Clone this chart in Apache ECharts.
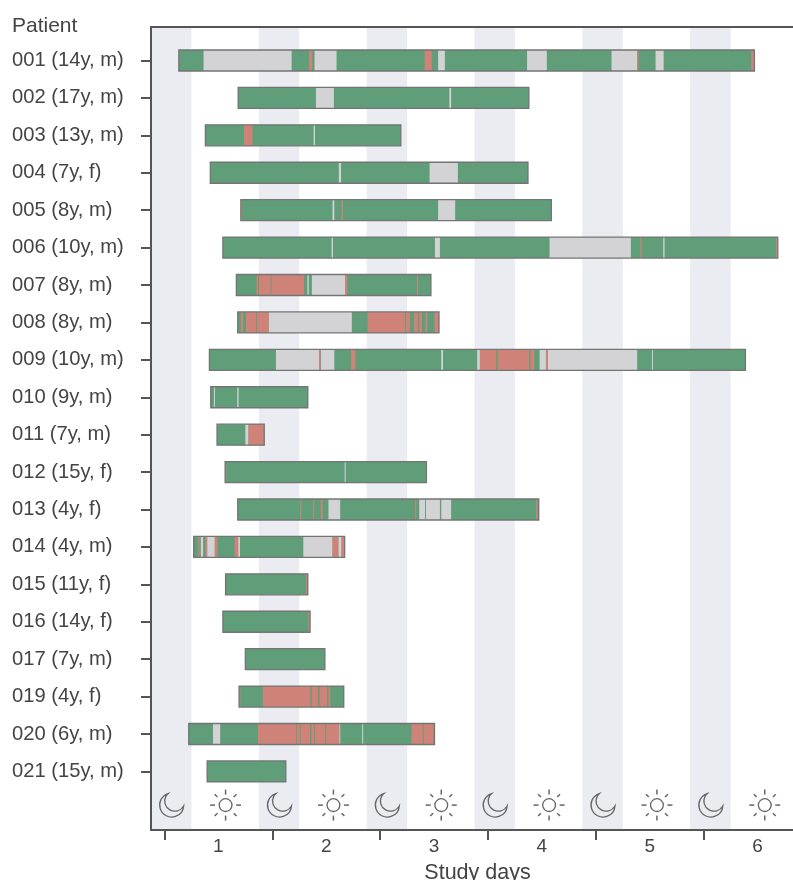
<!DOCTYPE html>
<html><head><meta charset="utf-8">
<style>html,body{margin:0;padding:0;background:#fff}#c{width:793px;height:880px}</style>
<script src="https://cdn.jsdelivr.net/npm/echarts@6/dist/echarts.min.js"></script>
</head><body><div id="c"></div>
<script>
// x values are hours after the first midnight of the study
const patients = ['001 (14y, m)','002 (17y, m)','003 (13y, m)','004 (7y, f)','005 (8y, m)','006 (10y, m)','007 (8y, m)','008 (8y, m)','009 (10y, m)','010 (9y, m)','011 (7y, m)','012 (15y, f)','013 (4y, f)','014 (4y, m)','015 (11y, f)','016 (14y, f)','017 (7y, m)','019 (4y, f)','020 (6y, m)','021 (15y, m)'];
const startHours = [3.2,16.4,9.1,10.2,17,13,16,16.3,10,10.3,11.7,13.5,16.3,6.5,13.6,13,18,16.6,5.4,9.5];
const endHours = [131.3,81.1,52.6,80.9,86.1,136.5,59.3,61.1,129.3,31.9,22.2,58.3,83.3,40.1,31.9,32.4,35.7,39.9,60.1,27];
const greySpans = [
 [[8.7,28.3],[33.4,38.3],[60.9,62.4],[80.7,85.1],[99.5,105.2],[109.3,111.1]],
 [[33.7,37.7],[63.4,63.8]],
 [[33.2,33.5]],
 [[38.8,39.3],[59,65.3]],
 [[37.4,37.8],[60.9,64.7]],
 [[37.2,37.5],[60.2,61.3],[85.7,103.8],[111,111.3]],
 [[31.8,32.1],[32.8,40.2]],
 [[23.2,41.7]],
 [[24.8,34.4],[34.8,37.8],[61.6,62],[69.6,70.2],[83.5,84.9],[85.3,105.2],[108.5,108.7]],
 [[11,11.2],[16.2,16.5]],
 [[18,18.7]],
 [[40.1,40.3]],
 [[36.5,39.1],[56.7,58],[58.2,61.3],[61.6,63.8]],
 [[8.1,8.6],[9.5,11.2],[16.4,16.8],[30.9,37.4],[38.7,39.4]],
 [],[],[],[],
 [[10.8,12.4],[38.9,39.1],[44,44.2]],
 []
];
const redSpans = [
 [[32.2,32.9],[57.9,59.5],[105.2,105.5],[130.6,131.2]],
 [],
 [[17.7,19.6]],
 [],
 [[17,17.2],[39.4,39.7]],
 [[105.9,106.2],[136.1,136.5]],
 [[20.5,20.8],[21,23.6],[23.8,31.1],[40.2,40.7],[56.2,56.4]],
 [[17,17.5],[18.1,20.4],[20.6,23.2],[45.2,53.5],[53.7,54.6],[55.5,56.4],[56.7,57.3],[58.1,58.5],[60.1,61.1]],
 [[34.4,34.7],[41.5,42.5],[70.2,73.8],[74.1,81.2],[81.5,82.3],[84.9,85.3]],
 [],
 [[18.7,22.2]],
 [[13.5,13.7]],
 [[30.2,30.4],[33.1,33.3],[34.8,35.2],[55.8,56],[82.7,83]],
 [[7.5,7.8],[9.1,9.5],[11.2,11.8],[15.6,16.4],[37.4,38.7],[39.4,40.1]],
 [[31.5,31.9]],
 [[32,32.4]],
 [],
 [[16.6,16.9],[21.9,32.5],[32.8,34.2],[34.5,36.2],[36.5,36.9]],
 [[20.8,29.3],[29.5,30.1],[30.3,32.4],[32.7,33.3],[33.5,35.8],[36,38.9],[55,57.5],[57.7,59.9]],
 []
];
const nightStarts = [-3,21,45,69,93,117];
const nightEnds = [6,30,54,78,102,126];
const moonHours = [1.6,25.6,49.6,73.6,97.6,121.6];
const sunHours = [13.6,37.6,61.6,85.6,109.6,133.6];
const dayLabels = ['1','2','3','4','5','6'];
const dayLabelHours = [12,36,60,84,108,132];
const midnightHours = [0,24,48,72,96,120];
const iconRow = 19.9;

const COLORS = {green:'#5F9E79', grey:'#D3D3D5', red:'#CF8378', night:'#EBECF2', edge:'#747474', ink:'#444', spine:'#555'};
const FONT = '"Liberation Sans", Arial, sans-serif';
const BAR_H = 21;
const Y_MIN = -0.895, Y_MAX = 20.565, X_MIN = -3, X_MAX = 141;

function spanItem(c) {
  return function (params, api) {
    const a = api.coord([api.value(0), api.value(2)]);
    const b = api.coord([api.value(1), api.value(2)]);
    return {type:'rect', shape:{x:a[0], y:a[1]-BAR_H/2, width:Math.max(b[0]-a[0],1), height:BAR_H},
            style:{fill:c}};
  };
}
function rows(arr){const out=[];arr.forEach((l,i)=>l.forEach(s=>out.push([s[0],s[1],i])));return out;}
const bars = patients.map((_,i)=>[startHours[i],endHours[i],i]);
const moonPath = 'M-4 -11 A12 12 0 1 0 11.7 1.3 A10.1 10.1 0 1 1 -4 -11 Z';
const ICON = {fill:'none', stroke:'#666', lineWidth:1.3};
const spineStyle = {color:COLORS.spine, width:2};

const option = {
  animation:false,
  backgroundColor:'#fff',
  title:{text:'Patient', left:7, top:11, textStyle:{fontFamily:FONT, fontSize:21, fontWeight:'normal', color:COLORS.ink}},
  grid:{left:151, right:-5, top:27, bottom:50, outerBoundsMode:'none', containLabel:false},
  xAxis:[
   {type:'value', z:10, min:X_MIN, max:X_MAX, splitLine:{show:false}, axisLine:{show:true, onZero:false, lineStyle:spineStyle},
    name:'Study days', nameLocation:'middle', nameGap:32,
    nameTextStyle:{fontFamily:FONT, fontSize:21.5, color:COLORS.ink, padding:[0,0,0,6]},
    axisTick:{show:true, length:10, customValues:midnightHours, lineStyle:{color:COLORS.spine, width:2}},
    axisLabel:{customValues:dayLabelHours, margin:7, fontFamily:FONT, fontSize:19, color:COLORS.ink,
      formatter:v=>dayLabels[dayLabelHours.indexOf(v)]}},
   {type:'value', z:10, position:'top', min:X_MIN, max:X_MAX, splitLine:{show:false},
    axisLine:{show:true, onZero:false, lineStyle:spineStyle}, axisTick:{show:false}, axisLabel:{show:false}}
  ],
  yAxis:{type:'value', z:10, inverse:true, min:Y_MIN, max:Y_MAX, splitLine:{show:false}, axisLine:{show:true, onZero:false, lineStyle:spineStyle},
    axisTick:{show:true, length:10, customValues:patients.map((_,i)=>i), lineStyle:{color:COLORS.spine, width:2}},
    axisLabel:{customValues:patients.map((_,i)=>i), align:'left', margin:139, padding:[3,0,0,0], fontFamily:FONT, fontSize:20.2, color:COLORS.ink,
      formatter:v=>patients[v]}},
  series:[
    {type:'custom', z:1, silent:true, data:nightStarts.map((s,i)=>[s,nightEnds[i]]),
     encode:{x:[0,1]},
     renderItem:(p,api)=>{
       const a=api.coord([api.value(0),Y_MIN]), b=api.coord([api.value(1),Y_MAX]);
       return {type:'rect', shape:{x:a[0],y:a[1],width:b[0]-a[0],height:b[1]-a[1]}, style:{fill:COLORS.night}};
     }},
    {type:'custom', z:2, silent:true, data:bars, encode:{x:[0,1],y:2}, renderItem:spanItem(COLORS.green)},
    {type:'custom', z:3, silent:true, data:rows(greySpans), encode:{x:[0,1],y:2}, renderItem:spanItem(COLORS.grey)},
    {type:'custom', z:4, silent:true, data:rows(redSpans), encode:{x:[0,1],y:2}, renderItem:spanItem(COLORS.red)},
    {type:'custom', z:5, silent:true, data:bars, encode:{x:[0,1],y:2},
     renderItem:(p,api)=>{
       const a=api.coord([api.value(0),api.value(2)]), b=api.coord([api.value(1),api.value(2)]);
       return {type:'rect', shape:{x:a[0],y:a[1]-BAR_H/2,width:b[0]-a[0],height:BAR_H},
               style:{fill:'none',stroke:COLORS.edge,lineWidth:1.3}};
     }},
    {type:'custom', z:6, silent:true, data:moonHours.map(h=>[h,iconRow]), encode:{x:0,y:1},
     renderItem:(p,api)=>{
       const c=api.coord([api.value(0),api.value(1)]);
       return {type:'path', shape:{pathData:moonPath, layout:'center', x:c[0]-12, y:c[1]-11.5, width:24, height:23.5}, style:ICON};
     }},
    {type:'custom', z:6, silent:true, data:sunHours.map(h=>[h,iconRow]), encode:{x:0,y:1},
     renderItem:(p,api)=>{
       const c=api.coord([api.value(0),api.value(1)]);
       const kids=[{type:'circle', shape:{cx:c[0],cy:c[1],r:6.4}, style:ICON}];
       for(let k=0;k<8;k++){
         const t=k*Math.PI/4, co=Math.cos(t), si=Math.sin(t);
         const r0=(k%2)?11.5:10.5, r1=15.5;
         kids.push({type:'line', shape:{x1:c[0]+r0*co,y1:c[1]+r0*si,x2:c[0]+r1*co,y2:c[1]+r1*si},
                    style:{stroke:'#666',lineWidth:1.5}});
       }
       return {type:'group', children:kids};
     }}
  ]
};
echarts.init(document.getElementById('c'),null,{renderer:'canvas'}).setOption(option);
</script></body></html>
